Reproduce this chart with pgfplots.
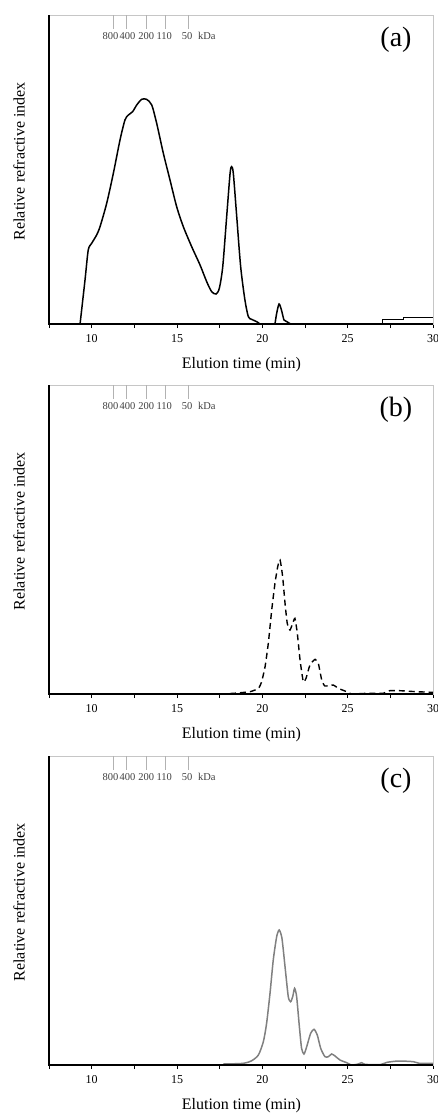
\documentclass[border=0pt]{standalone}
\usepackage{pgfplots}
\pgfplotsset{compat=1.18}
\usepackage{fontspec}
\setmainfont{Liberation Serif}
\pgfplotsset{
  gpc/.style={
    scale only axis, width=384pt, height=309pt,
    anchor=south west,
    xmin=7.5, xmax=30, ymin=0, ymax=927,
    xtick={10,15,20,25,30},
    minor xtick={7.5,12.5,17.5,22.5,27.5},
    xtick pos=bottom, ytick=\empty,
    tick align=outside,
    major tick length=4pt, minor tick length=4pt,
    every tick/.style={black, line width=0.9pt},
    axis line style={draw=gray!45, line width=0.6pt},
    /pgf/number format/assume math mode=true,
    xticklabel style={font=\fontsize{12}{14}\selectfont, yshift=-3pt},
    xlabel={Elution time (min)},
    ylabel={Relative refractive index},
    label style={font=\fontsize{16}{18}\selectfont},
    xlabel style={at={(axis description cs:0.501,-0.13)}, anchor=center},
    ylabel style={at={(axis description cs:-0.078,0.527)}, anchor=center, rotate=0},
    clip=false,
  },
}
\newcommand{\kdamarks}[1]{%
  \draw[gray!60, line width=0.6pt] (axis cs:11.27,927) -- (axis cs:11.27,884);
  \draw[gray!60, line width=0.6pt] (axis cs:12.05,927) -- (axis cs:12.05,884);
  \draw[gray!60, line width=0.6pt] (axis cs:13.22,927) -- (axis cs:13.22,884);
  \draw[gray!60, line width=0.6pt] (axis cs:14.3,927) -- (axis cs:14.3,884);
  \draw[gray!60, line width=0.6pt] (axis cs:15.66,927) -- (axis cs:15.66,884);
  \node[font=\fontsize{10.5}{12}\selectfont, text=black!75, anchor=center] at (axis cs:11.1,865) {800};
  \node[font=\fontsize{10.5}{12}\selectfont, text=black!75, anchor=center] at (axis cs:12.1,865) {400};
  \node[font=\fontsize{10.5}{12}\selectfont, text=black!75, anchor=center] at (axis cs:13.2,865) {200};
  \node[font=\fontsize{10.5}{12}\selectfont, text=black!75, anchor=center] at (axis cs:14.25,865) {110};
  \node[font=\fontsize{10.5}{12}\selectfont, text=black!75, anchor=center] at (axis cs:15.6,865) {50};
  \node[font=\fontsize{10.5}{12}\selectfont, text=black!75, anchor=center] at (axis cs:16.75,865) {kDa};
  \node[font=\fontsize{28}{30}\selectfont, anchor=center] at (axis cs:27.83,852) {#1};
  \draw[black, line width=1.1pt] (rel axis cs:0,1) -- (rel axis cs:0,0) -- (rel axis cs:1,0);
}
\begin{document}
\begin{tikzpicture}
\useasboundingbox (0,0) rectangle (437pt,-1113pt);
% ---------------- (a)
\begin{axis}[gpc, at={(49pt,-324pt)}]
\addplot[black, line width=1.5pt, smooth, tension=0.45] coordinates {
(9.32,0) (9.61,132) (9.80,222) (10.0,242) (10.29,267) (10.49,292) (10.88,362)
(11.27,452) (11.66,552) (11.95,612) (12.15,627) (12.40,637) (12.64,657)
(12.93,674) (13.22,674) (13.52,657) (13.81,602) (14.2,512) (14.59,432)
(14.98,352) (15.37,292) (15.86,232) (16.35,177) (16.74,127) (17.03,97)
(17.29,90) (17.48,107) (17.68,172) (17.91,322) (18.11,452) (18.2,472)
(18.3,452) (18.5,322) (18.73,172) (18.98,72) (19.18,22) (19.37,14)
(19.67,7) (19.86,0)};
\addplot[black, line width=1.5pt, smooth, tension=0.45] coordinates {
(20.74,0) (20.84,32) (20.98,60) (21.12,42) (21.27,12) (21.43,7) (21.66,0)};
\addplot[black, line width=1.5pt, sharp plot] coordinates {
(27.03,0) (27.03,14) (28.26,14) (28.26,20) (30,20)};
\kdamarks{(a)}
\end{axis}
% ---------------- (b)
\begin{axis}[gpc, at={(49pt,-694pt)}]
\addplot[black, line width=1.4pt, dash pattern=on 6pt off 4pt, smooth, tension=0.3] coordinates {
(17.52,0) (18.3,2) (19.28,7) (19.77,17) (19.96,37) (20.16,82) (20.35,152)
(20.55,252) (20.74,332) (20.9,382) (21.04,402) (21.19,352) (21.33,272)
(21.46,212) (21.62,192) (21.78,212) (21.91,227) (22.05,182) (22.21,102)
(22.4,37) (22.56,47) (22.79,87) (23.09,104) (23.28,92) (23.48,42)
(23.67,24) (24.16,27) (24.45,17) (24.94,7) (25.23,0) (26.1,2) (27.08,2)
(27.47,10) (28.05,10) (29.0,7) (30,5)};
\kdamarks{(b)}
\end{axis}
% ---------------- (c)
\begin{axis}[gpc, at={(49pt,-1065pt)}]
\addplot[black!50, line width=1.5pt, smooth, tension=0.4] coordinates {
(17.71,3) (18.89,5) (19.38,13) (19.77,30) (20.06,70) (20.25,125) (20.45,215)
(20.64,315) (20.84,385) (20.99,405) (21.15,380) (21.33,295) (21.52,205)
(21.66,190) (21.78,205) (21.89,230) (22.01,205) (22.17,115) (22.3,50)
(22.44,33) (22.6,55) (22.83,95) (23.03,107) (23.22,90) (23.42,50)
(23.67,25) (23.87,25) (24.06,33) (24.26,27) (24.55,15) (24.94,7)
(25.23,0) (25.62,3) (25.82,7) (26.02,2) (26.9,1) (27.3,8) (27.98,12)
(28.85,10) (29.2,5) (30,5)};
\kdamarks{(c)}
\end{axis}
\end{tikzpicture}
\end{document}
